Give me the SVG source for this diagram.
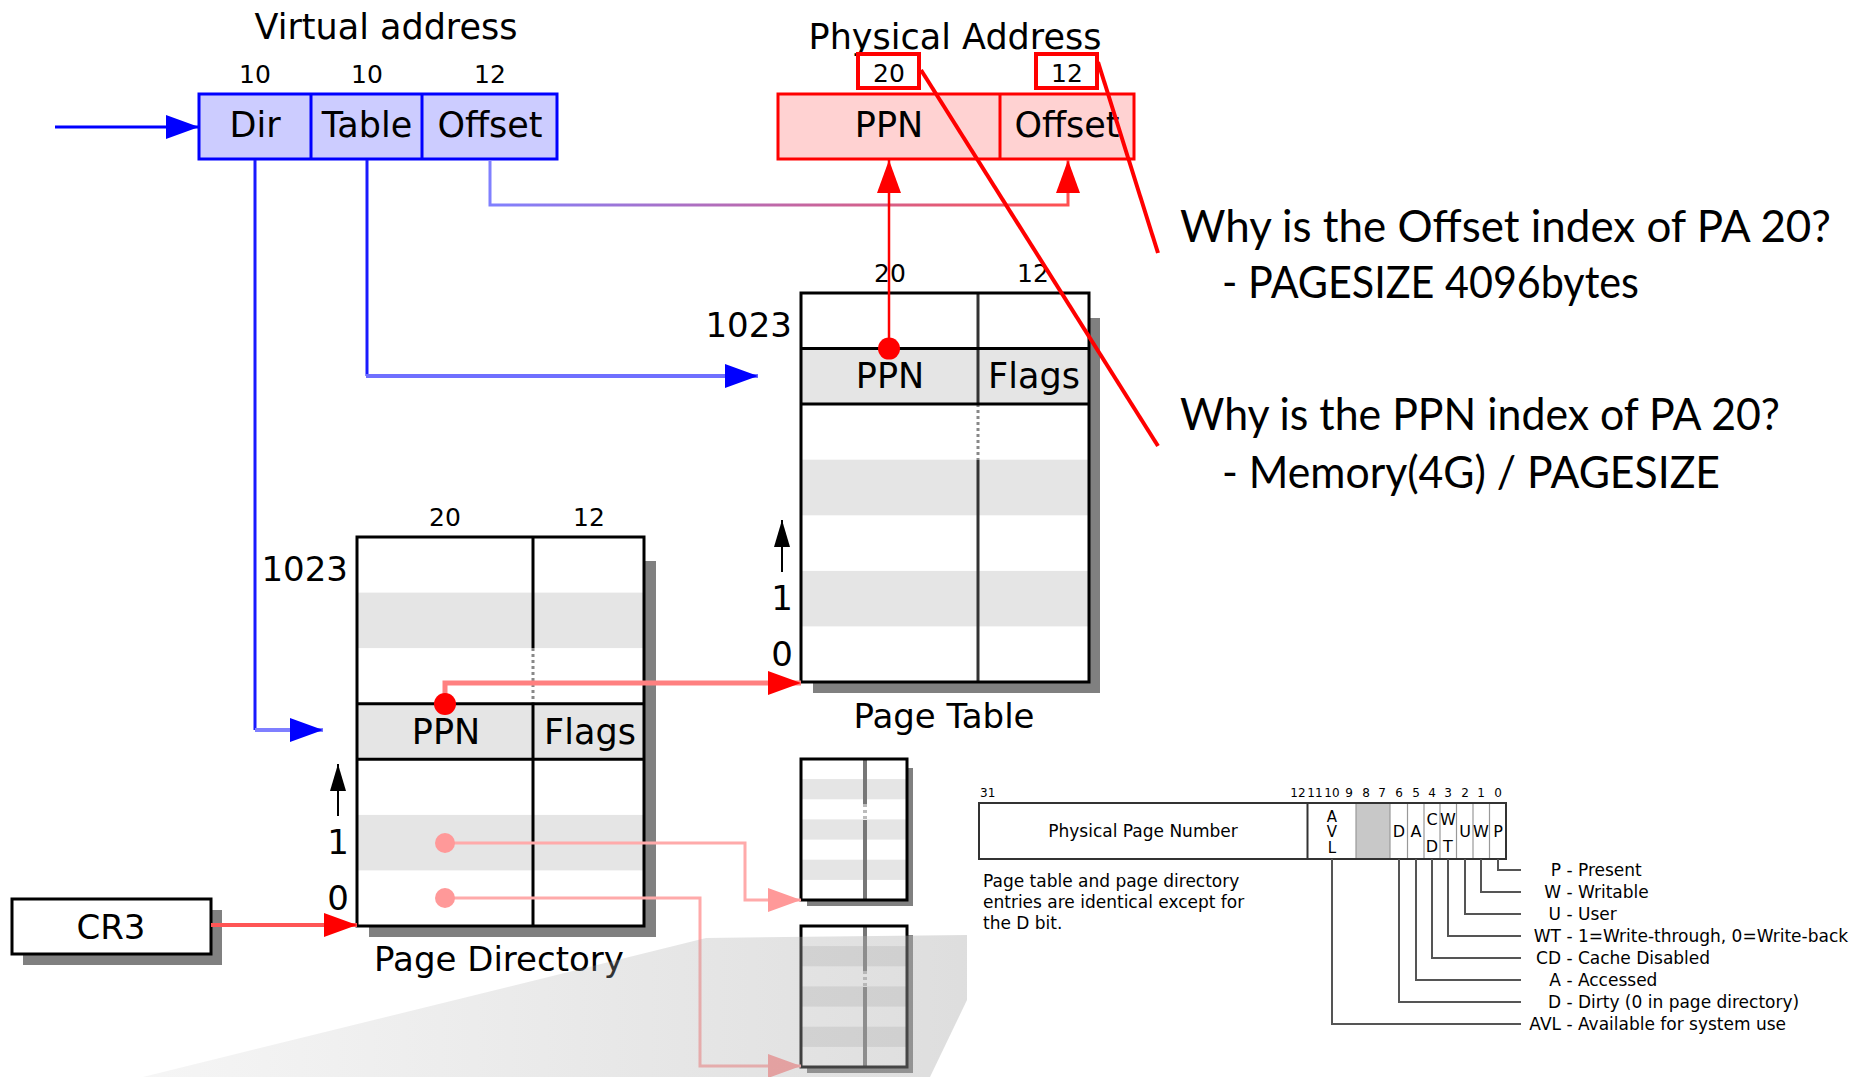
<svg xmlns="http://www.w3.org/2000/svg" width="1859" height="1077" viewBox="0 0 1859 1077">
<style>
text{font-family:"DejaVu Sans","Liberation Sans",sans-serif;fill:#000}
.m{text-anchor:middle}
.e{text-anchor:end}
.s35{font-size:35px}
.s34{font-size:34px}
.s25{font-size:25px}
.s17{font-size:17px}
.s16{font-size:16px}
.s15{font-size:15px}
.s12{font-size:12px}
.q{font-family:Lato,"Open Sans",sans-serif;font-size:44px}
.bdr{fill:none;stroke:#000;stroke-width:3}
.row{fill:#e5e5e5}
.shadow{fill:#808080}
.hl{stroke:#000;stroke-width:3}
.dv{stroke:#333;stroke-width:3}
.dd{stroke:#888;stroke-width:3;stroke-dasharray:3 3}
.lg{fill:none;stroke:#555;stroke-width:2}
.bit{stroke:#999;stroke-width:1.2}
.ann{stroke:#ff0000;stroke-width:4;fill:none}
</style>
<defs>
<marker id="ab" markerUnits="userSpaceOnUse" markerWidth="34" markerHeight="24" refX="33" refY="12" orient="auto"><path d="M0,0L33,12L0,24z" fill="#0000ff"/></marker>
<marker id="ar" markerUnits="userSpaceOnUse" markerWidth="34" markerHeight="24" refX="33" refY="12" orient="auto"><path d="M0,0L33,12L0,24z" fill="#ff0000"/></marker>
<marker id="ap" markerUnits="userSpaceOnUse" markerWidth="34" markerHeight="24" refX="33" refY="12" orient="auto"><path d="M0,0L33,12L0,24z" fill="#ff9999"/></marker>
<marker id="ak" markerUnits="userSpaceOnUse" markerWidth="27" markerHeight="16" refX="27" refY="8" orient="auto"><path d="M0,0L27,8L0,16z" fill="#000"/></marker>
<linearGradient id="gOff" gradientUnits="userSpaceOnUse" x1="490" y1="0" x2="1068" y2="0"><stop offset="0" stop-color="#8080ff"/><stop offset="1" stop-color="#ff5050"/></linearGradient>
<linearGradient id="gRefl" gradientUnits="userSpaceOnUse" x1="143" y1="0" x2="967" y2="0"><stop offset="0" stop-color="#b0b0b0" stop-opacity="0.12"/><stop offset="1" stop-color="#b0b0b0" stop-opacity="0.42"/></linearGradient>
</defs>
<rect width="1859" height="1077" fill="#fff"/>

<g id="virtual-address">
<text class="m s35" x="386" y="39">Virtual address</text>
<text class="m s25" x="255" y="83">10</text>
<text class="m s25" x="367" y="83">10</text>
<text class="m s25" x="490" y="83">12</text>
<rect x="199" y="94" width="358" height="65" fill="#ccccff" stroke="#0000ff" stroke-width="3"/>
<line x1="311" y1="94" x2="311" y2="159" stroke="#0000ff" stroke-width="3"/>
<line x1="422" y1="94" x2="422" y2="159" stroke="#0000ff" stroke-width="3"/>
<text class="m s35" x="255" y="137">Dir</text>
<text class="m s35" x="367" y="137">Table</text>
<text class="m s35" x="490" y="137">Offset</text>
</g>

<g id="physical-address">
<text class="m s35" x="955" y="49">Physical Address</text>
<rect x="778" y="94" width="356" height="65" fill="#ffd2d2" stroke="#ff0000" stroke-width="3"/>
<line x1="1000" y1="94" x2="1000" y2="159" stroke="#ff0000" stroke-width="3"/>
<text class="m s35" x="889" y="137">PPN</text>
<text class="m s35" x="1067" y="137">Offset</text>
<rect x="858" y="54" width="61" height="34" fill="#fff" stroke="#ff0000" stroke-width="4"/>
<text class="m s25" x="889" y="82">20</text>
<rect x="1036" y="54" width="61" height="34" fill="#fff" stroke="#ff0000" stroke-width="4"/>
<text class="m s25" x="1067" y="82">12</text>
</g>

<g id="page-table">
<polygon class="shadow" points="1089,318 1100,318 1100,693 813,693 813,682 1089,682"/>
<rect x="801" y="293" width="288" height="389" fill="#fff"/>
<rect class="row" x="801" y="348.6" width="288" height="55.5"/>
<rect class="row" x="801" y="459.7" width="288" height="55.6"/>
<rect class="row" x="801" y="570.9" width="288" height="55.5"/>
<line class="dv" x1="978" y1="293" x2="978" y2="404"/>
<line class="dd" x1="978" y1="404" x2="978" y2="460"/>
<line class="dv" x1="978" y1="460" x2="978" y2="682"/>
<line class="hl" x1="801" y1="348.6" x2="1089" y2="348.6"/>
<line class="hl" x1="801" y1="404.1" x2="1089" y2="404.1"/>
<rect class="bdr" x="801" y="293" width="288" height="389"/>
<text class="m s25" x="890" y="282">20</text>
<text class="m s25" x="1033" y="282">12</text>
<text class="e s34" x="792" y="337">1023</text>
<text class="m s35" x="890" y="388">PPN</text>
<text class="m s35" x="1034" y="388">Flags</text>
<text class="m s34" x="782" y="610">1</text>
<text class="m s34" x="782" y="666">0</text>
<line x1="782" y1="572" x2="782" y2="520" stroke="#000" stroke-width="2" marker-end="url(#ak)"/>
<text class="m s34" x="944" y="728">Page Table</text>
</g>

<g id="page-directory">
<polygon class="shadow" points="644,561 656,561 656,937 369,937 369,926 644,926"/>
<rect x="357" y="537" width="287" height="389" fill="#fff"/>
<rect class="row" x="357" y="592.6" width="287" height="55.5"/>
<rect class="row" x="357" y="703.7" width="287" height="55.6"/>
<rect class="row" x="357" y="814.9" width="287" height="55.5"/>
<line class="hl" x1="533" y1="537" x2="533" y2="648"/>
<line class="dd" x1="533" y1="648" x2="533" y2="704"/>
<line class="hl" x1="533" y1="704" x2="533" y2="926"/>
<line class="hl" x1="357" y1="703.7" x2="644" y2="703.7"/>
<line class="hl" x1="357" y1="759.3" x2="644" y2="759.3"/>
<rect class="bdr" x="357" y="537" width="287" height="389"/>
<text class="m s25" x="445" y="526">20</text>
<text class="m s25" x="589" y="526">12</text>
<text class="e s34" x="348" y="581">1023</text>
<text class="m s35" x="446" y="744">PPN</text>
<text class="m s35" x="590" y="744">Flags</text>
<text class="m s34" x="338" y="854">1</text>
<text class="m s34" x="338" y="910">0</text>
<line x1="338" y1="816" x2="338" y2="764" stroke="#000" stroke-width="2" marker-end="url(#ak)"/>
<text class="m s34" x="499" y="971">Page Directory</text>
</g>

<g id="cr3">
<polygon class="shadow" points="211,910 222,910 222,965 23,965 23,954 211,954"/>
<rect x="12" y="899" width="199" height="55" fill="#fff" stroke="#000" stroke-width="3"/>
<text class="m s34" x="111" y="939">CR3</text>
</g>

<g id="small-table-1">
<polygon class="shadow" points="907,768 913,768 913,906 807,906 807,900 907,900"/>
<rect x="801" y="759" width="106" height="141" fill="#fff"/>
<rect class="row" x="801" y="779.1" width="106" height="20.2"/>
<rect class="row" x="801" y="819.4" width="106" height="20.2"/>
<rect class="row" x="801" y="859.7" width="106" height="20.2"/>
<line x1="865" y1="759" x2="865" y2="804" stroke="#777" stroke-width="4"/>
<line x1="865" y1="804" x2="865" y2="820" stroke="#bbb" stroke-width="4" stroke-dasharray="3 3"/>
<line x1="865" y1="820" x2="865" y2="900" stroke="#777" stroke-width="4"/>
<rect class="bdr" x="801" y="759" width="106" height="141"/>
</g>

<g id="small-table-2">
<polygon class="shadow" points="907,935 913,935 913,1073 807,1073 807,1067 907,1067"/>
<rect x="801" y="926" width="106" height="141" fill="#fff"/>
<rect class="row" x="801" y="946.1" width="106" height="20.2"/>
<rect class="row" x="801" y="986.4" width="106" height="20.2"/>
<rect class="row" x="801" y="1026.7" width="106" height="20.2"/>
<line x1="865" y1="926" x2="865" y2="971" stroke="#777" stroke-width="4"/>
<line x1="865" y1="971" x2="865" y2="987" stroke="#bbb" stroke-width="4" stroke-dasharray="3 3"/>
<line x1="865" y1="987" x2="865" y2="1067" stroke="#777" stroke-width="4"/>
<rect class="bdr" x="801" y="926" width="106" height="141"/>
</g>

<g id="connectors">
<line x1="55" y1="127" x2="199" y2="127" stroke="#0000ff" stroke-width="3" marker-end="url(#ab)"/>
<line x1="255" y1="160" x2="255" y2="730" stroke="#1a1aff" stroke-width="3"/>
<line x1="255" y1="730" x2="323" y2="730" stroke="#7f7fff" stroke-width="4" marker-end="url(#ab)"/>
<line x1="367" y1="160" x2="367" y2="376" stroke="#1a1aff" stroke-width="3"/>
<line x1="366" y1="376" x2="758" y2="376" stroke="#6f6fff" stroke-width="4" marker-end="url(#ab)"/>
<path d="M490,160V205H1068V160" fill="none" stroke="url(#gOff)" stroke-width="3" marker-end="url(#ar)"/>
<line x1="889" y1="349" x2="889" y2="160" stroke="#ff0000" stroke-width="2.5" marker-end="url(#ar)"/>
<path d="M445,704V683H801" fill="none" stroke="#ff8080" stroke-width="5" marker-end="url(#ar)"/>
<line x1="211" y1="925" x2="357" y2="925" stroke="#ff5555" stroke-width="4" marker-end="url(#ar)"/>
<path d="M445,843H745V900H801" fill="none" stroke="#ffaaaa" stroke-width="3" marker-end="url(#ap)"/>
<path d="M445,898H700V1066H801" fill="none" stroke="#ffaaaa" stroke-width="3" marker-end="url(#ap)"/>
<circle cx="889" cy="348.6" r="11" fill="#ff0000"/>
<circle cx="445" cy="704" r="11" fill="#ff0000"/>
<circle cx="445" cy="843" r="10" fill="#ff9999"/>
<circle cx="445" cy="898" r="10" fill="#ff9999"/>
</g>

<polygon id="reflection" points="143,1077 706,938 967,935 967,1000 930,1077" fill="url(#gRefl)"/>

<g id="annotations">
<line class="ann" x1="921" y1="70" x2="1158" y2="446"/>
<line class="ann" x1="1098" y1="62" x2="1158" y2="253"/>
<text class="q" x="1180" y="242" textLength="651" lengthAdjust="spacingAndGlyphs">Why is the Offset index of PA 20?</text>
<text class="q" x="1222" y="298" textLength="417" lengthAdjust="spacingAndGlyphs">- PAGESIZE 4096bytes</text>
<text class="q" x="1180" y="430" textLength="600" lengthAdjust="spacingAndGlyphs">Why is the PPN index of PA 20?</text>
<text class="q" x="1222" y="488" textLength="498" lengthAdjust="spacingAndGlyphs">- Memory(4G) / PAGESIZE</text>
</g>

<g id="pte-format">
<text class="s12" x="980" y="797">31</text>
<text class="m s12" y="797"><tspan x="1298">12</tspan><tspan x="1315">11</tspan><tspan x="1332">10</tspan><tspan x="1349">9</tspan><tspan x="1366">8</tspan><tspan x="1382">7</tspan><tspan x="1399">6</tspan><tspan x="1416">5</tspan><tspan x="1432">4</tspan><tspan x="1448">3</tspan><tspan x="1465">2</tspan><tspan x="1481">1</tspan><tspan x="1498">0</tspan></text>
<rect x="979" y="803" width="527" height="56" fill="#fff"/>
<rect x="1356" y="803" width="34" height="56" fill="#c8c8c8"/>
<line class="bit" x1="1390" y1="803" x2="1390" y2="859"/>
<line class="bit" x1="1407.5" y1="803" x2="1407.5" y2="859"/>
<line class="bit" x1="1424" y1="803" x2="1424" y2="859"/>
<line class="bit" x1="1440" y1="803" x2="1440" y2="859"/>
<line class="bit" x1="1456.5" y1="803" x2="1456.5" y2="859"/>
<line class="bit" x1="1473" y1="803" x2="1473" y2="859"/>
<line class="bit" x1="1489.5" y1="803" x2="1489.5" y2="859"/>
<line class="bit" x1="1356" y1="803" x2="1356" y2="859"/>
<line x1="1307.5" y1="803" x2="1307.5" y2="859" stroke="#333" stroke-width="2"/>
<rect x="979" y="803" width="527" height="56" fill="none" stroke="#333" stroke-width="2"/>
<text class="m s17" x="1143" y="837">Physical Page Number</text>
<text class="m s15"><tspan x="1332" y="822">A</tspan><tspan x="1332" y="837">V</tspan><tspan x="1332" y="853">L</tspan></text>
<text class="m s16" x="1399" y="837">D</text>
<text class="m s16" x="1416" y="837">A</text>
<text class="m s16"><tspan x="1432" y="825">C</tspan><tspan x="1432" y="852">D</tspan></text>
<text class="m s16"><tspan x="1448" y="825">W</tspan><tspan x="1448" y="852">T</tspan></text>
<text class="m s16" x="1465" y="837">U</text>
<text class="m s16" x="1481" y="837">W</text>
<text class="m s16" x="1498" y="837">P</text>
<path class="lg" d="M1498,859V870H1521"/>
<path class="lg" d="M1481,859V892H1521"/>
<path class="lg" d="M1465,859V914H1521"/>
<path class="lg" d="M1448,859V936H1521"/>
<path class="lg" d="M1432,859V958H1521"/>
<path class="lg" d="M1416,859V980H1521"/>
<path class="lg" d="M1399,859V1002H1521"/>
<path class="lg" d="M1332,859V1024H1521"/>
<text class="s17" y="876"><tspan class="e" x="1561">P</tspan><tspan x="1561"> - Present</tspan></text>
<text class="s17" y="898"><tspan class="e" x="1561">W</tspan><tspan x="1561"> - Writable</tspan></text>
<text class="s17" y="920"><tspan class="e" x="1561">U</tspan><tspan x="1561"> - User</tspan></text>
<text class="s17" y="942"><tspan class="e" x="1561">WT</tspan><tspan x="1561"> - 1=Write-through, 0=Write-back</tspan></text>
<text class="s17" y="964"><tspan class="e" x="1561">CD</tspan><tspan x="1561"> - Cache Disabled</tspan></text>
<text class="s17" y="986"><tspan class="e" x="1561">A</tspan><tspan x="1561"> - Accessed</tspan></text>
<text class="s17" y="1008"><tspan class="e" x="1561">D</tspan><tspan x="1561"> - Dirty (0 in page directory)</tspan></text>
<text class="s17" y="1030"><tspan class="e" x="1561">AVL</tspan><tspan x="1561"> - Available for system use</tspan></text>
<text class="s17"><tspan x="983" y="887">Page table and page directory</tspan><tspan x="983" y="908">entries are identical except for</tspan><tspan x="983" y="929">the D bit.</tspan></text>
</g>
</svg>
